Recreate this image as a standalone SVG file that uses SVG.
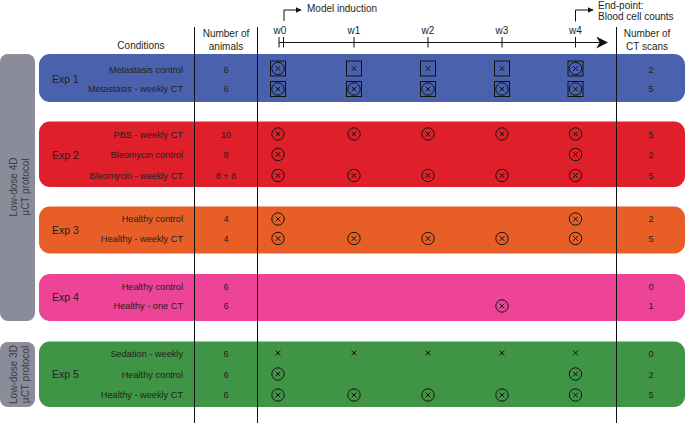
<svg xmlns="http://www.w3.org/2000/svg" width="685" height="423" viewBox="0 0 685 423">
<style>
text{font-family:"Liberation Sans",Arial,sans-serif;fill:#231f20}
.hd{font-size:10px}
.c{font-size:9.2px;text-anchor:end}
.n{font-size:9.2px;text-anchor:middle}
.ex{font-size:10.5px}
.gt{font-size:10px;fill:#3a3c48;text-anchor:middle}
.ln{stroke:#111;stroke-width:1;fill:none}
</style>
<defs>
<g id="cx"><circle r="6.2" fill="none" stroke="#111" stroke-width="1"/><path d="M-2.4-2.4L2.4 2.4M2.4-2.4L-2.4 2.4" stroke="#111" stroke-width="1"/></g>
<g id="sx"><path d="M-2.4-2.4L2.4 2.4M2.4-2.4L-2.4 2.4" stroke="#111" stroke-width="1"/></g>
<g id="bcx"><rect x="-7.5" y="-7.5" width="15" height="15" fill="none" stroke="#111" stroke-width="1"/><use href="#cx"/></g>
<g id="bsx"><rect x="-7.5" y="-7.5" width="15" height="15" fill="none" stroke="#111" stroke-width="1"/><use href="#sx"/></g>
<marker id="ah" viewBox="0 0 10 10" refX="9" refY="5" markerWidth="6" markerHeight="6" orient="auto" markerUnits="userSpaceOnUse"><path d="M0 0L10 5L0 10z" fill="#111"/></marker>
<marker id="ahb" viewBox="0 0 10 10" refX="9" refY="5" markerWidth="12" markerHeight="12" orient="auto" markerUnits="userSpaceOnUse"><path d="M0 0L10 5L0 10L3 5z" fill="#111"/></marker>
</defs>

<g id="protocol-4d"><rect x="0" y="54" width="35" height="267" rx="8" fill="#8a8d99"/>
<text class="gt" transform="translate(17,187) rotate(-90)">Low-dose 4D</text>
<text class="gt" transform="translate(29,187) rotate(-90)">μCT protocol</text></g>
<g id="protocol-3d"><rect x="0" y="342" width="35" height="65" rx="8" fill="#8a8d99"/>
<text class="gt" transform="translate(17,374.5) rotate(-90)">Low-dose 3D</text>
<text class="gt" transform="translate(29,374.5) rotate(-90)">μCT protocol</text></g>

<g id="exp1"><rect x="39" y="54" width="646" height="48" rx="11" fill="#4a62ad"/>
<text class="ex" x="52" y="83">Exp 1</text>
<text class="c" x="183" y="72.5">Metastasis control</text><text class="n" x="226" y="72.5">6</text><text class="n" x="651" y="72.5">2</text>
<text class="c" x="183" y="92">Metastasis - weekly CT</text><text class="n" x="226" y="92">6</text><text class="n" x="651" y="92">5</text>
<use href="#bcx" x="278" y="68.5"/><use href="#bsx" x="354" y="68.5"/><use href="#bsx" x="428" y="68.5"/><use href="#bsx" x="502" y="68.5"/><use href="#bcx" x="575.5" y="68.5"/>
<use href="#bcx" x="278" y="89"/><use href="#bcx" x="354" y="89"/><use href="#bcx" x="428" y="89"/><use href="#bcx" x="502" y="89"/><use href="#bcx" x="575.5" y="89"/>
</g>

<g id="exp2"><rect x="39" y="121.5" width="646" height="65.5" rx="11" fill="#df202b"/>
<text class="ex" x="52" y="158.5">Exp 2</text>
<text class="c" x="183" y="137.5">PBS - weekly CT</text><text class="n" x="226" y="137.5">10</text><text class="n" x="651" y="137.5">5</text>
<text class="c" x="183" y="157.5">Bleomycin control</text><text class="n" x="226" y="157.5">8</text><text class="n" x="651" y="157.5">2</text>
<text class="c" x="183" y="178.5">Bleomycin - weekly CT</text><text class="n" x="226" y="178.5">8 + 8</text><text class="n" x="651" y="178.5">5</text>
<use href="#cx" x="278" y="134"/><use href="#cx" x="354" y="134"/><use href="#cx" x="428" y="134"/><use href="#cx" x="502" y="134"/><use href="#cx" x="575.5" y="134"/>
<use href="#cx" x="278" y="154.5"/><use href="#cx" x="575.5" y="154.5"/>
<use href="#cx" x="278" y="175.5"/><use href="#cx" x="354" y="175.5"/><use href="#cx" x="428" y="175.5"/><use href="#cx" x="502" y="175.5"/><use href="#cx" x="575.5" y="175.5"/>
</g>

<g id="exp3"><rect x="39" y="206.5" width="646" height="47" rx="11" fill="#e75f27"/>
<text class="ex" x="52" y="233.5">Exp 3</text>
<text class="c" x="183" y="222">Healthy control</text><text class="n" x="226" y="222">4</text><text class="n" x="651" y="222">2</text>
<text class="c" x="183" y="241.5">Healthy - weekly CT</text><text class="n" x="226" y="241.5">4</text><text class="n" x="651" y="241.5">5</text>
<use href="#cx" x="278" y="219"/><use href="#cx" x="575.5" y="219"/>
<use href="#cx" x="278" y="238.5"/><use href="#cx" x="354" y="238.5"/><use href="#cx" x="428" y="238.5"/><use href="#cx" x="502" y="238.5"/><use href="#cx" x="575.5" y="238.5"/>
</g>

<g id="exp4"><rect x="39" y="274" width="646" height="47" rx="11" fill="#ee4498"/>
<text class="ex" x="52" y="301">Exp 4</text>
<text class="c" x="183" y="289.5">Healthy control</text><text class="n" x="226" y="289.5">6</text><text class="n" x="651" y="289.5">0</text>
<text class="c" x="183" y="309">Healthy - one CT</text><text class="n" x="226" y="309">6</text><text class="n" x="651" y="309">1</text>
<use href="#cx" x="502" y="306"/>
</g>

<g id="exp5"><rect x="39" y="341.5" width="646" height="65.5" rx="11" fill="#409446"/>
<text class="ex" x="52" y="378">Exp 5</text>
<text class="c" x="183" y="357">Sedation - weekly</text><text class="n" x="226" y="357">6</text><text class="n" x="651" y="357">0</text>
<text class="c" x="183" y="377.5">Healthy control</text><text class="n" x="226" y="377.5">6</text><text class="n" x="651" y="377.5">2</text>
<text class="c" x="183" y="398">Healthy - weekly CT</text><text class="n" x="226" y="398">6</text><text class="n" x="651" y="398">5</text>
<use href="#sx" x="278" y="353"/><use href="#sx" x="354" y="353"/><use href="#sx" x="428" y="353"/><use href="#sx" x="502" y="353"/><use href="#sx" x="575.5" y="353"/>
<use href="#cx" x="278" y="374"/><use href="#cx" x="575.5" y="374"/>
<use href="#cx" x="278" y="395"/><use href="#cx" x="354" y="395"/><use href="#cx" x="428" y="395"/><use href="#cx" x="502" y="395"/><use href="#cx" x="575.5" y="395"/>
</g>

<g id="headers">
<text class="hd" x="141" y="49" text-anchor="middle">Conditions</text>
<text class="hd" x="226" y="37" text-anchor="middle">Number of</text>
<text class="hd" x="226" y="50" text-anchor="middle">animals</text>
<text class="hd" x="647" y="37" text-anchor="middle">Number of</text>
<text class="hd" x="647" y="50" text-anchor="middle">CT scans</text>
<text class="hd" x="280" y="34" text-anchor="middle">w0</text>
<text class="hd" x="354" y="34" text-anchor="middle">w1</text>
<text class="hd" x="428" y="34" text-anchor="middle">w2</text>
<text class="hd" x="502" y="34" text-anchor="middle">w3</text>
<text class="hd" x="575.5" y="34" text-anchor="middle">w4</text>
<text class="hd" x="307" y="12">Model induction</text>
<text class="hd" x="598" y="8.5">End-point:</text>
<text class="hd" x="598" y="20">Blood cell counts</text>
</g>

<g id="connectors">
<path class="ln" d="M194.5 27V423M257.5 27V423M616.5 27V423"/>
<path class="ln" d="M279 42.5H607" marker-end="url(#ahb)"/>
<path class="ln" d="M279 37V47.5M283.5 37V47.5M354 37V47.5M428 37V47.5M502 37V47.5M575.5 37V47.5"/>
<path class="ln" d="M284 21V10H301" marker-end="url(#ah)"/>
<path class="ln" d="M575.5 21.5V10H593" marker-end="url(#ah)"/>
</g>
</svg>
